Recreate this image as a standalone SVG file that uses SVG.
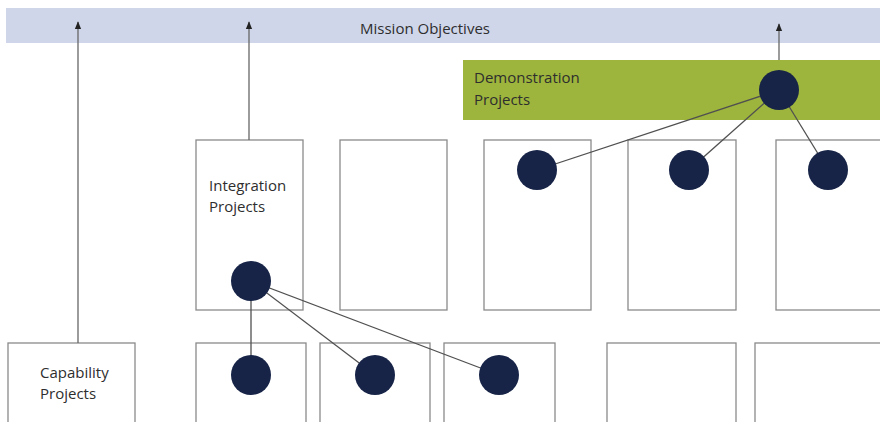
<svg xmlns="http://www.w3.org/2000/svg" width="880" height="422" viewBox="0 0 880 422">
  <defs>
    <marker id="arrow" viewBox="0 0 10 10" refX="9" refY="5" markerWidth="8" markerHeight="8" orient="auto" markerUnits="userSpaceOnUse">
      <path d="M0,1 L10,5 L0,9 Z" fill="#222"/>
    </marker>
  </defs>
  <style>
    .box { fill: #fff; stroke: #8a8a8a; stroke-width: 1.3; }
    .label { font-family: "Open Sans", "Liberation Sans", sans-serif; font-size: 15px; fill: #2e2e2e; }
    .link { stroke: #505050; stroke-width: 1.3; fill: none; }
    .up { stroke: #666; stroke-width: 1.3; fill: none; marker-end: url(#arrow); }
    .dot { fill: #172447; }
  </style>

  <rect width="880" height="422" fill="#fff"/>

  <!-- top band -->
  <g id="mission">
    <rect x="6" y="8" width="874" height="35" fill="#cfd6ea"/>
    <text class="label" x="425" y="34" text-anchor="middle">Mission Objectives</text>
  </g>

  <!-- demonstration band -->
  <g id="demonstration">
    <rect x="463" y="60" width="417" height="60" fill="#9db53c"/>
    <text class="label" x="474" y="83">Demonstration</text>
    <text class="label" x="474" y="105">Projects</text>
  </g>

  <!-- integration row -->
  <g id="integration">
    <rect class="box" x="196" y="140" width="107" height="170"/>
    <text class="label" x="209" y="191">Integration</text>
    <text class="label" x="209" y="212">Projects</text>
  </g>
  <g id="int2"><rect class="box" x="340" y="140" width="107" height="170"/></g>
  <g id="int3"><rect class="box" x="484" y="140" width="107" height="170"/></g>
  <g id="int4"><rect class="box" x="628" y="140" width="108" height="170"/></g>
  <g id="int5"><rect class="box" x="776" y="140" width="110" height="170"/></g>

  <!-- capability row -->
  <g id="capability">
    <rect class="box" x="8" y="343" width="127" height="90"/>
    <text class="label" x="40" y="378">Capability</text>
    <text class="label" x="40" y="399">Projects</text>
  </g>
  <g id="cap2"><rect class="box" x="196" y="343" width="110" height="90"/></g>
  <g id="cap3"><rect class="box" x="320" y="343" width="110" height="90"/></g>
  <g id="cap4"><rect class="box" x="444" y="343" width="111" height="90"/></g>
  <g id="cap5"><rect class="box" x="607" y="343" width="129" height="90"/></g>
  <g id="cap6"><rect class="box" x="755" y="343" width="130" height="90"/></g>

  <!-- connectors -->
  <g id="connectors">
    <line class="up" x1="78" y1="343" x2="78" y2="22"/>
    <line class="up" x1="249" y1="140" x2="249" y2="22"/>
    <line class="up" x1="779" y1="60" x2="779" y2="24"/>
    <line class="link" x1="779" y1="90" x2="537" y2="170"/>
    <line class="link" x1="779" y1="90" x2="689" y2="170"/>
    <line class="link" x1="779" y1="90" x2="828" y2="170"/>
    <line class="link" x1="251" y1="281" x2="251" y2="375"/>
    <line class="link" x1="251" y1="281" x2="375" y2="375"/>
    <line class="link" x1="251" y1="281" x2="499" y2="375"/>
  </g>

  <!-- project dots -->
  <g id="dots">
    <circle class="dot" cx="779" cy="90" r="20"/>
    <circle class="dot" cx="537" cy="170" r="20"/>
    <circle class="dot" cx="689" cy="170" r="20"/>
    <circle class="dot" cx="828" cy="170" r="20"/>
    <circle class="dot" cx="251" cy="281" r="20"/>
    <circle class="dot" cx="251" cy="375" r="20"/>
    <circle class="dot" cx="375" cy="375" r="20"/>
    <circle class="dot" cx="499" cy="375" r="20"/>
  </g>
</svg>
